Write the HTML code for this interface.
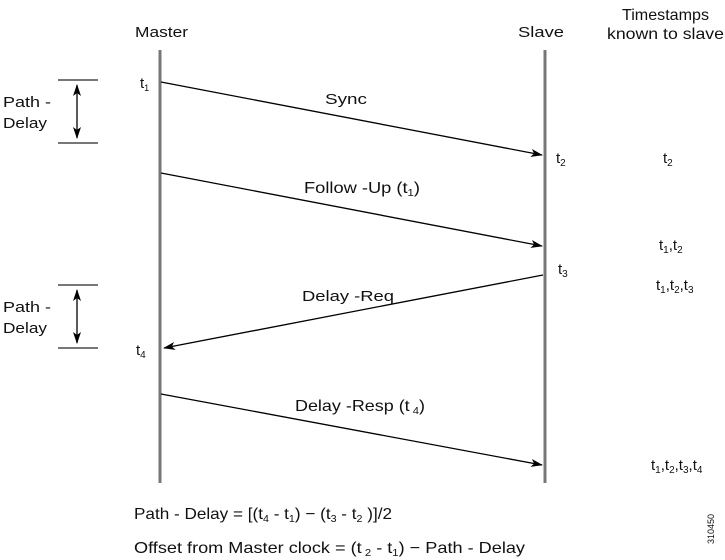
<!DOCTYPE html>
<html><head><meta charset="utf-8"><style>
html,body{margin:0;padding:0;background:#fff;}
svg{display:block;}
text{font-family:"Liberation Sans",Arial,sans-serif;fill:#111;}
</style></head><body>
<svg width="725" height="560" viewBox="0 0 725 560" xmlns="http://www.w3.org/2000/svg">
<defs>
<marker id="a" markerWidth="12" markerHeight="8" refX="11" refY="4" orient="auto-start-reverse" markerUnits="userSpaceOnUse">
<path d="M0,0 L12,4 L0,8 L3,4 Z" fill="#000"/>
</marker>
</defs>
<line x1="160" y1="50" x2="160" y2="483" stroke="#777" stroke-width="3"/>
<line x1="545" y1="50" x2="545" y2="483" stroke="#777" stroke-width="3"/>
<text x="135" y="37" font-size="15" textLength="53" lengthAdjust="spacingAndGlyphs">Master</text>
<text x="518" y="37" font-size="15" textLength="46" lengthAdjust="spacingAndGlyphs">Slave</text>
<text x="622" y="20" font-size="16" textLength="87" lengthAdjust="spacingAndGlyphs">Timestamps</text>
<text x="607" y="39" font-size="16" textLength="117" lengthAdjust="spacingAndGlyphs">known to slave</text>
<g stroke="#777" stroke-width="2">
<line x1="58" y1="80" x2="98" y2="80"/><line x1="58" y1="143" x2="98" y2="143"/>
<line x1="58" y1="285" x2="98" y2="285"/><line x1="58" y1="348" x2="98" y2="348"/>
</g>
<g stroke="#000" stroke-width="1.3">
<line x1="77" y1="85" x2="77" y2="138" marker-start="url(#a)" marker-end="url(#a)"/>
<line x1="77" y1="290" x2="77" y2="343" marker-start="url(#a)" marker-end="url(#a)"/>
</g>
<text x="3" y="107" font-size="15" textLength="48" lengthAdjust="spacingAndGlyphs">Path -</text>
<text x="3" y="128" font-size="15" textLength="44" lengthAdjust="spacingAndGlyphs">Delay</text>
<text x="3" y="312" font-size="15" textLength="48" lengthAdjust="spacingAndGlyphs">Path -</text>
<text x="3" y="333" font-size="15" textLength="44" lengthAdjust="spacingAndGlyphs">Delay</text>
<g stroke="#000" stroke-width="1.3">
<line x1="161" y1="82" x2="542" y2="155" marker-end="url(#a)"/>
<line x1="161" y1="173" x2="542" y2="246" marker-end="url(#a)"/>
<line x1="543" y1="275" x2="164" y2="348" marker-end="url(#a)"/>
<line x1="161" y1="394" x2="542" y2="465" marker-end="url(#a)"/>
</g>
<text x="325" y="104" font-size="15" textLength="42" lengthAdjust="spacingAndGlyphs">Sync</text>
<text x="304" y="193" font-size="16" textLength="116" lengthAdjust="spacingAndGlyphs">Follow -Up (t<tspan font-size="10" dy="3">1</tspan><tspan dy="-3">)</tspan></text>
<text x="302" y="301" font-size="15" textLength="92" lengthAdjust="spacingAndGlyphs">Delay -Req</text>
<text x="295" y="411" font-size="16" textLength="130" lengthAdjust="spacingAndGlyphs">Delay -Resp (t<tspan font-size="10" dy="3"> 4</tspan><tspan dy="-3">)</tspan></text>
<text x="140" y="88" font-size="15">t<tspan font-size="9" dy="3">1</tspan></text>
<text x="556" y="163" font-size="15">t<tspan font-size="10" dy="3">2</tspan></text>
<text x="558" y="274" font-size="15">t<tspan font-size="10" dy="3">3</tspan></text>
<text x="136" y="355" font-size="15">t<tspan font-size="10" dy="3">4</tspan></text>
<text x="663" y="163" font-size="15">t<tspan font-size="10" dy="3">2</tspan></text>
<text x="659" y="250" font-size="15">t<tspan font-size="10" dy="3">1</tspan><tspan dy="-3">,t</tspan><tspan font-size="10" dy="3">2</tspan></text>
<text x="656" y="290" font-size="15">t<tspan font-size="10" dy="3">1</tspan><tspan dy="-3">,t</tspan><tspan font-size="10" dy="3">2</tspan><tspan dy="-3">,t</tspan><tspan font-size="10" dy="3">3</tspan></text>
<text x="651" y="470" font-size="15">t<tspan font-size="10" dy="3">1</tspan><tspan dy="-3">,t</tspan><tspan font-size="10" dy="3">2</tspan><tspan dy="-3">,t</tspan><tspan font-size="10" dy="3">3</tspan><tspan dy="-3">,t</tspan><tspan font-size="10" dy="3">4</tspan></text>
<text x="134" y="519" font-size="16" textLength="258" lengthAdjust="spacingAndGlyphs">Path - Delay = [(t<tspan font-size="10" dy="3">4</tspan><tspan dy="-3"> - t</tspan><tspan font-size="10" dy="3">1</tspan><tspan dy="-3">) − (t</tspan><tspan font-size="10" dy="3">3</tspan><tspan dy="-3"> - t</tspan><tspan font-size="10" dy="3">2</tspan><tspan dy="-3"> )]/2</tspan></text>
<text x="134" y="553" font-size="16" textLength="391" lengthAdjust="spacingAndGlyphs">Offset from Master clock  = (t<tspan font-size="10" dy="3"> 2</tspan><tspan dy="-3"> - t</tspan><tspan font-size="10" dy="3">1</tspan><tspan dy="-3">) − Path - Delay</tspan></text>
<text x="0" y="0" font-size="9" transform="translate(714,544) rotate(-90)" fill="#333">310450</text>
</svg>
</body></html>
